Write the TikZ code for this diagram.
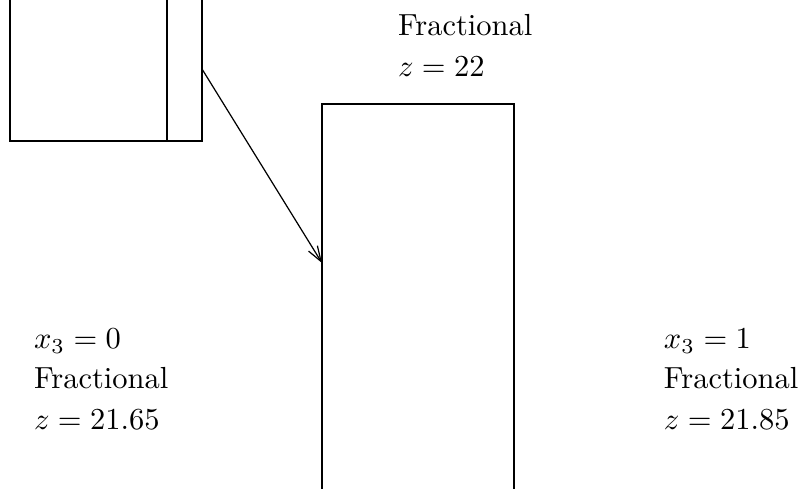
\documentclass[tikz,border=0pt]{standalone}
\usetikzlibrary{arrows.meta}
\begin{document}
\begin{tikzpicture}[x=0.3279pt,y=-0.3279pt,
  box/.style={draw,line width=0.4pt,inner sep=0pt,outer sep=0pt},
  lbl/.style={anchor=base west,inner sep=0pt,outer sep=0pt},
  conn/.style={-{Straight Barb[length=5pt,width=3.4pt]},line width=0.4pt}]
\useasboundingbox (0,0) rectangle (800,489);
\clip (0,0) rectangle (800,489);
% left box (cut at top)
\node[box,minimum width=192*0.3279pt,minimum height=144*0.3279pt] (lbox) at (106,69) {};
\draw[line width=0.4pt] (167,-3) -- (167,141);
% tall box (cut at bottom)
\node[box,minimum width=192*0.3279pt,minimum height=500*0.3279pt] (tbox) at (418,354) {};
\coordinate (tin) at (322,263);
\draw[conn] (lbox.east) -- (tin);
% labels
\node[lbl] (t1) at (398,36) {Fractional};
\node[lbl] (t2) at (398,77) {$z=22$};
\node[lbl] (l1) at (34,349) {$x_3=0$};
\node[lbl] (l2) at (34,389) {Fractional};
\node[lbl] (l3) at (34,430) {$z=21.65$};
\node[lbl] (r1) at (664,349) {$x_3=1$};
\node[lbl] (r2) at (664,389) {Fractional};
\node[lbl] (r3) at (664,430) {$z=21.85$};
\end{tikzpicture}
\end{document}
